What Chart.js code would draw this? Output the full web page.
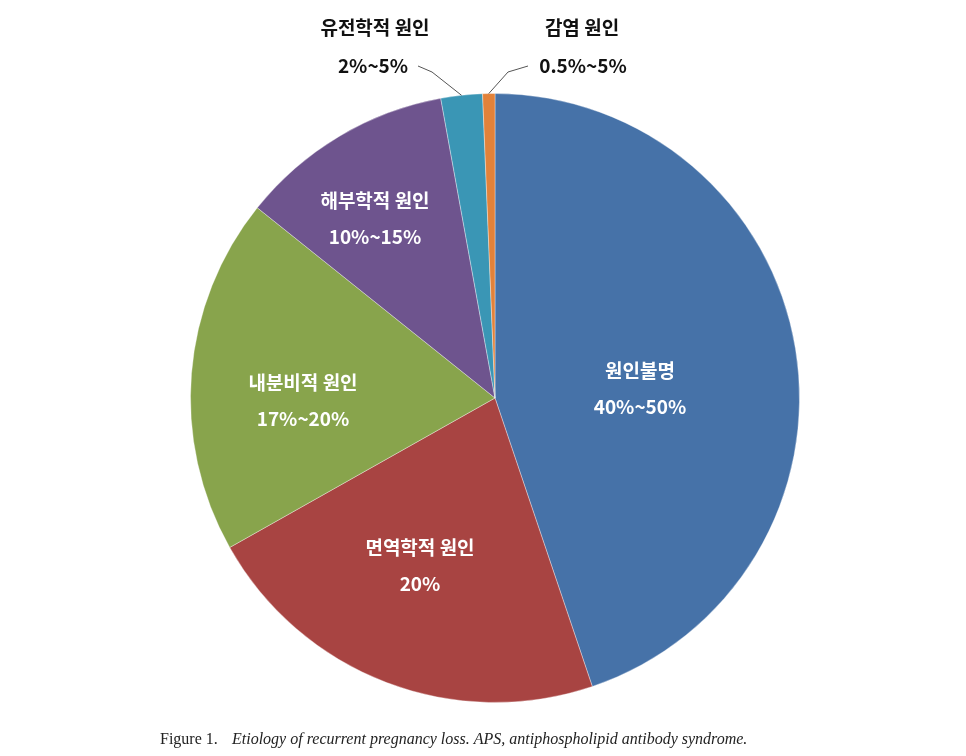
<!DOCTYPE html>
<html><head><meta charset="utf-8">
<script src="https://cdn.jsdelivr.net/npm/chart.js@4"></script>
<style>html,body{margin:0;background:#fff}#c{display:block}</style>
</head><body>
<div style="width:966px;height:756px"><canvas id="c"></canvas></div>
<script>
const categories = ['원인불명','면역학적 원인','내분비적 원인','해부학적 원인','유전학적 원인','감염 원인'];
const rangeLabels = ['40%~50%','20%','17%~20%','10%~15%','2%~5%','0.5%~5%'];
const values = [44.8, 22.0, 18.9, 11.4, 2.2, 0.65];
const colors = ['#4672a8','#a84442','#88a44c','#6e548e','#3a96b5','#e2823a'];

const F = '"Noto Sans CJK KR","Noto Sans",sans-serif';
const labelPlugin = {
  id:'labels',
  afterDraw(chart){
    const ctx = chart.ctx;
    const meta = chart.getDatasetMeta(0);
    ctx.save();
    ctx.textAlign='center'; ctx.textBaseline='middle';
    meta.data.forEach((arc,i)=>{
      if (i < 4) {
        const r = arc.outerRadius*0.62;
        const a = (arc.startAngle+arc.endAngle)/2;
        let x = arc.x + Math.cos(a)*r, y = arc.y + Math.sin(a)*r;
        if (i===0){x=640;y=388;}
        if (i===1){x=420;y=565;}
        if (i===2){x=303;y=400;}
        if (i===3){x=375;y=218;}
        ctx.fillStyle='#fff'; ctx.font='bold 19px '+F;
        ctx.fillText(categories[i], x, y-17);
        ctx.fillText(rangeLabels[i], x, y+19);
      } else {
        const a = (arc.startAngle+arc.endAngle)/2;
        const ex = arc.x + Math.cos(a)*arc.outerRadius, ey = arc.y + Math.sin(a)*arc.outerRadius;
        ctx.strokeStyle='#555'; ctx.lineWidth=1;
        ctx.beginPath();
        let tx, ty;
        if (i===4){ ctx.moveTo(ex,ey); ctx.lineTo(432,72); ctx.lineTo(418,66); tx=373; ty=66; }
        else { ctx.moveTo(ex,ey); ctx.lineTo(508,72); ctx.lineTo(528,66); tx=583; ty=66; }
        ctx.stroke();
        ctx.fillStyle='#111'; ctx.font='bold 19px '+F;
        ctx.fillText(rangeLabels[i], tx, ty);
        ctx.fillText(categories[i], i===4?375:582, 28);
      }
    });
    ctx.font='16px "Liberation Serif",serif'; ctx.fillStyle='#222'; ctx.textAlign='left';
    ctx.fillText('Figure 1.', 160, 740);
    ctx.font='italic 16px "Liberation Serif",serif';
    ctx.fillText('Etiology of recurrent pregnancy loss. APS, antiphospholipid antibody syndrome.', 232, 740);
    ctx.restore();
  }
};
new Chart(document.getElementById('c'),{
  type:'pie',
  data:{labels:categories,datasets:[{data:values,backgroundColor:colors,borderColor:'rgba(255,255,255,0.35)',borderWidth:1}]},
  options:{responsive:true,maintainAspectRatio:false,animation:false,
    layout:{padding:{top:93,bottom:53,left:190,right:166}},
    plugins:{legend:{display:false},tooltip:{enabled:false}}},
  plugins:[labelPlugin]
});
</script>
</body></html>
